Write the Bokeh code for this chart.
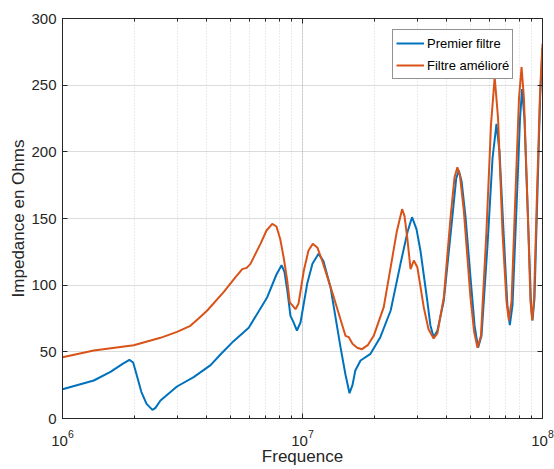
from bokeh.plotting import figure
from bokeh.models import (LogAxis, LinearAxis, FixedTicker, LogTicker, Legend,
                          LegendItem, Range1d)
from bokeh.embed import file_html
from bokeh.resources import INLINE

# ---- data ----
freq_premier = [1.00e6, 1.35e6, 1.585e6, 1.78e6, 1.90e6, 1.97e6, 2.05e6, 2.13e6, 2.24e6, 2.37e6,
                2.44e6, 2.56e6, 3.00e6, 3.52e6, 4.14e6, 4.55e6, 5.16e6, 5.97e6, 7.13e6, 7.79e6,
                8.18e6, 8.41e6, 8.66e6, 8.91e6, 9.13e6, 9.48e6, 9.81e6, 1.046e7, 1.10e7, 1.166e7,
                1.223e7, 1.308e7, 1.44e7, 1.51e7, 1.57e7, 1.615e7, 1.66e7, 1.745e7, 1.92e7, 2.11e7,
                2.33e7, 2.56e7, 2.74e7, 2.86e7, 2.985e7, 3.10e7, 3.31e7, 3.41e7, 3.52e7, 3.65e7,
                3.88e7, 4.21e7, 4.37e7, 4.48e7, 4.60e7, 4.78e7, 5.01e7, 5.21e7, 5.39e7, 5.57e7,
                5.90e7, 6.19e7, 6.43e7, 6.62e7, 6.88e7, 7.14e7, 7.31e7, 7.50e7, 7.80e7, 8.06e7,
                8.22e7, 8.41e7, 8.74e7, 8.96e7, 9.08e7, 9.26e7, 9.53e7, 9.77e7, 1.0e8]
imp_premier = [22, 28.5, 35, 41, 44, 42, 31, 20, 11, 6.5,
               8, 13.5, 24, 31, 40, 48, 58, 68, 91, 108,
               115, 110, 95, 77, 73, 66, 72, 101, 116, 123.5,
               118, 98.5, 53.5, 33, 19, 25, 36, 43.5, 48.5, 61,
               81, 116, 140, 151, 142, 126, 88.5, 70, 61, 66,
               88.5, 151, 180, 186, 178, 151, 106, 70, 53, 62,
               130, 195, 221, 200, 140, 85, 70, 85, 160, 225,
               247, 225, 140, 85, 73.5, 90, 170, 240, 278]

freq_ameliore = [1.0e6, 1.35e6, 1.98e6, 2.56e6, 3.00e6, 3.41e6, 3.69e6, 4.01e6, 4.70e6, 5.26e6,
                 5.61e6, 5.85e6, 6.07e6, 6.68e6, 7.08e6, 7.48e6, 7.79e6, 8.09e6, 8.36e6, 8.63e6,
                 8.85e6, 9.06e6, 9.35e6, 9.62e6, 1.013e7, 1.059e7, 1.104e7, 1.155e7, 1.207e7, 1.35e7,
                 1.51e7, 1.56e7, 1.615e7, 1.69e7, 1.77e7, 1.87e7, 1.98e7, 2.18e7, 2.33e7, 2.47e7,
                 2.60e7, 2.66e7, 2.73e7, 2.82e7, 2.91e7, 3.01e7, 3.20e7, 3.35e7, 3.52e7, 3.65e7,
                 3.88e7, 4.14e7, 4.30e7, 4.42e7, 4.53e7, 4.70e7, 5.01e7, 5.19e7, 5.36e7, 5.54e7,
                 5.84e7, 6.10e7, 6.32e7, 6.53e7, 6.81e7, 7.08e7, 7.24e7, 7.43e7, 7.72e7, 7.98e7,
                 8.18e7, 8.37e7, 8.70e7, 8.91e7, 9.06e7, 9.22e7, 9.49e7, 9.77e7, 1.0e8]
imp_ameliore = [46, 51, 55, 60.5, 65, 69.5, 75, 81, 95, 106,
                112, 113, 116, 131, 141, 146, 144, 134, 120, 104,
                87, 85, 82, 86, 111, 126, 131, 128, 118.5, 91,
                62, 61, 56, 53, 52, 55, 62, 83.5, 113.5, 140,
                157, 152, 136, 112, 118.5, 113.5, 83.5, 67, 60, 64,
                91, 151, 181, 188.5, 182, 156, 91, 65, 53, 62,
                140, 220, 256, 225, 140, 88, 73.5, 88, 170, 240,
                263.5, 240, 150, 88, 73.5, 90, 170, 245, 281]

y_ticks = [0, 50, 100, 150, 200, 250, 300]
series_names = ["Premier filtre", "Filtre amélioré"]
x_label = "Frequence"
y_label = "Impedance en Ohms"

BLUE = "#0072BD"
ORANGE = "#D95319"
INK = "#262626"
FONT = "Liberation Sans"

p = figure(width=554, height=469, x_axis_type="log",
           x_range=Range1d(1e6, 1e8), y_range=Range1d(0, 300),
           output_backend="svg", toolbar_location=None,
           min_border_left=62, min_border_right=12, min_border_top=18,
           min_border_bottom=51)
p.outline_line_color = INK
p.outline_line_width = 1
p.background_fill_color = "white"
p.border_fill_color = "white"

# grids
p.xgrid.grid_line_color = "#b8b8b8"
p.xgrid.grid_line_dash = "1 1"
p.xgrid.minor_grid_line_color = "#d6d6d6"
p.xgrid.minor_grid_line_dash = "1 2"
p.ygrid.grid_line_color = "#b8b8b8"
p.ygrid.grid_line_dash = "1 1"
p.ygrid.ticker = FixedTicker(ticks=y_ticks)

r1 = p.line(freq_premier, imp_premier, line_width=2, line_color=BLUE)
r2 = p.line(freq_ameliore, imp_ameliore, line_width=2, line_color=ORANGE)

def style_axis(ax):
    ax.axis_line_color = INK
    ax.major_tick_line_color = INK
    ax.minor_tick_line_color = INK
    ax.major_tick_in = 5
    ax.major_tick_out = 0
    ax.minor_tick_in = 3
    ax.minor_tick_out = 0
    ax.major_label_text_font = FONT
    ax.major_label_text_font_size = "15px"
    ax.major_label_text_color = INK
    ax.axis_label_text_font = FONT
    ax.axis_label_text_font_size = "17px"
    ax.axis_label_text_font_style = "normal"
    ax.axis_label_text_color = INK

xa = p.xaxis[0]
style_axis(xa)
xa.ticker = LogTicker(num_minor_ticks=10)
xa.axis_label = x_label
xa.major_label_standoff = 11
xa.axis_label_standoff = -2

ya = p.yaxis[0]
style_axis(ya)
ya.ticker = FixedTicker(ticks=y_ticks)
ya.axis_label = y_label
ya.major_label_standoff = 6
ya.axis_label_standoff = 0
ya.minor_tick_in = 0

top = LogAxis(ticker=LogTicker(num_minor_ticks=10))
style_axis(top)
top.major_label_text_font_size = "1px"
top.major_label_text_alpha = 0
top.major_label_standoff = 0
p.add_layout(top, "above")

right = LinearAxis(ticker=FixedTicker(ticks=y_ticks))
style_axis(right)
right.minor_tick_in = 0
right.major_label_text_font_size = "1px"
right.major_label_text_alpha = 0
right.major_label_standoff = 0
p.add_layout(right, "right")

legend = Legend(items=[LegendItem(label=series_names[0], renderers=[r1]),
                       LegendItem(label=series_names[1], renderers=[r2])],
                location=(330, 339), margin=0, padding=3, spacing=2,
                glyph_width=28, glyph_height=20, label_height=20,
                label_standoff=3, label_text_font=FONT,
                label_text_font_size="13px", label_text_color="black",
                border_line_color=INK, border_line_width=1,
                background_fill_color="white", background_fill_alpha=1)
p.add_layout(legend)

open("out.html", "w").write(file_html(p, INLINE))
